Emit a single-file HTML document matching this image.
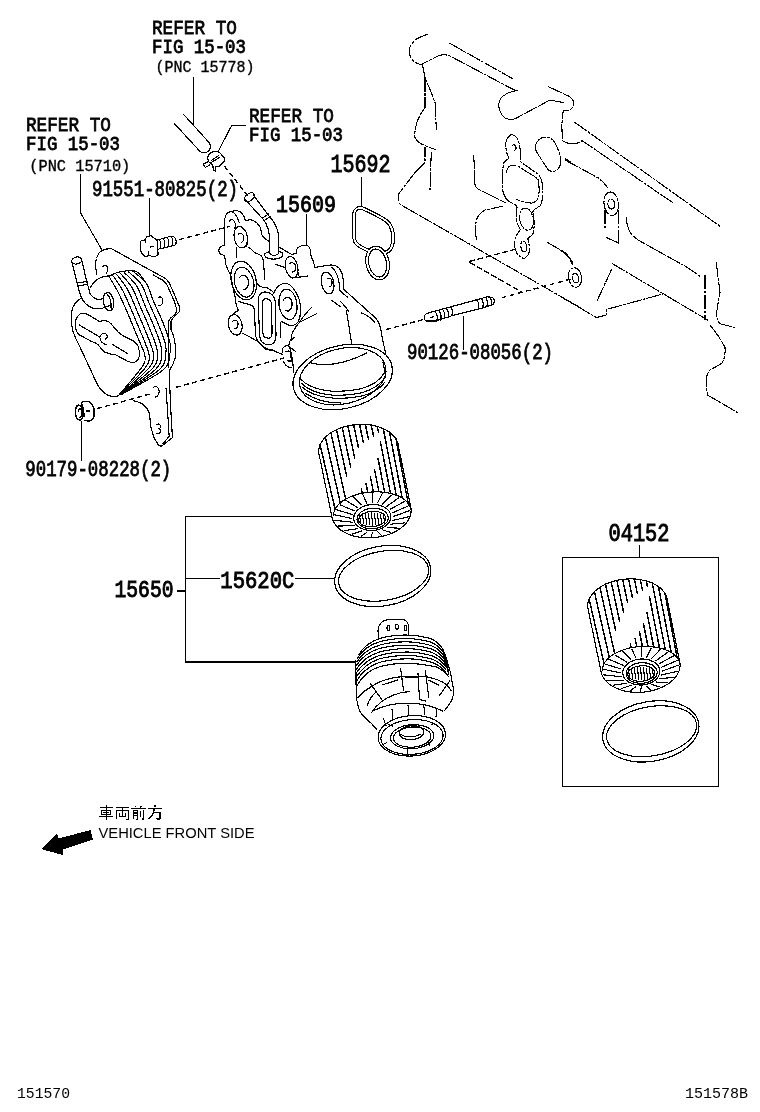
<!DOCTYPE html>
<html><head><meta charset="utf-8">
<style>
html,body{margin:0;padding:0;background:#fff;}
body{width:760px;height:1112px;overflow:hidden;position:relative;}
svg{position:absolute;left:0;top:0;will-change:transform;}
.s{font-family:"Liberation Mono",monospace;font-weight:normal;fill:#000;stroke:#000;stroke-width:0.8px;}
.p{font-family:"Liberation Mono",monospace;font-weight:normal;fill:#000;stroke:#000;stroke-width:0.35px;}
.b{font-family:"Liberation Mono",monospace;font-weight:normal;fill:#000;stroke:#000;stroke-width:0.95px;}
.f{font-family:"Liberation Mono",monospace;font-weight:normal;fill:#000;}
.n{font-family:"Liberation Sans",sans-serif;fill:#000;}
</style></head><body>
<svg shape-rendering="crispEdges" width="760" height="1112" viewBox="0 0 760 1112">
<g id="texts">
<text class="s" x="152" y="33.9" font-size="21.1" textLength="85" lengthAdjust="spacingAndGlyphs">REFER TO</text>
<text class="s" x="152" y="53.4" font-size="21.1" textLength="94" lengthAdjust="spacingAndGlyphs">FIG 15-03</text>
<text class="p" x="155.5" y="72" font-size="16" textLength="99" lengthAdjust="spacingAndGlyphs">(PNC 15778)</text>
<text class="s" x="249" y="122.2" font-size="21.1" textLength="85" lengthAdjust="spacingAndGlyphs">REFER TO</text>
<text class="s" x="249" y="141.2" font-size="21.1" textLength="94" lengthAdjust="spacingAndGlyphs">FIG 15-03</text>
<text class="s" x="26" y="130.8" font-size="21.1" textLength="85" lengthAdjust="spacingAndGlyphs">REFER TO</text>
<text class="s" x="26" y="149.8" font-size="21.1" textLength="94" lengthAdjust="spacingAndGlyphs">FIG 15-03</text>
<text class="p" x="29.3" y="171" font-size="16" textLength="101" lengthAdjust="spacingAndGlyphs">(PNC 15710)</text>
<text class="s" x="92" y="195.8" font-size="22" textLength="146" lengthAdjust="spacingAndGlyphs">91551-80825(2)</text>
<text class="b" x="330.5" y="172" font-size="25" textLength="60" lengthAdjust="spacingAndGlyphs">15692</text>
<text class="b" x="276" y="212" font-size="24" textLength="60" lengthAdjust="spacingAndGlyphs">15609</text>
<text class="s" x="407" y="359" font-size="22" textLength="146" lengthAdjust="spacingAndGlyphs">90126-08056(2)</text>
<text class="s" x="25.3" y="476" font-size="22" textLength="146" lengthAdjust="spacingAndGlyphs">90179-08228(2)</text>
<text class="b" x="608.5" y="541" font-size="25" textLength="61" lengthAdjust="spacingAndGlyphs">04152</text>
<text class="b" x="114.5" y="597.4" font-size="24" textLength="59" lengthAdjust="spacingAndGlyphs">15650</text>
<text class="b" x="220.3" y="587.6" font-size="24" textLength="74" lengthAdjust="spacingAndGlyphs">15620C</text>
<text class="n" x="98.5" y="838.2" font-size="15" textLength="156" lengthAdjust="spacingAndGlyphs">VEHICLE FRONT SIDE</text>
<text class="f" x="17" y="1097.8" font-size="15" textLength="53" lengthAdjust="spacingAndGlyphs">151570</text>
<text class="f" x="685" y="1097.8" font-size="15" textLength="63" lengthAdjust="spacingAndGlyphs">151578B</text>
</g>
<g id="lines" stroke="#000" stroke-width="1.1" fill="none">
<!-- leaders -->
<path d="M193.5,77 V124"/>
<path d="M246,125.3 H231.8 L218.4,151"/>
<path d="M80.6,174 V213 L102,250"/>
<path d="M149.4,198 V236"/>
<path d="M361.5,176.5 V206"/>
<path d="M306.5,213.5 V245.5"/>
<path d="M463.5,316 V350"/>
<path d="M81.5,421 V461"/>
<path d="M639.5,545 V557.6"/>
<rect x="562.5" y="557.6" width="156.3" height="229.2"/>
<path d="M332,516.6 H185.5 V662 H356"/>
<path d="M185.5,578.5 H219.7 M295,578.5 H334"/>
<path d="M176.7,591 H185.5"/>
</g>
<g id="dashes" stroke="#000" stroke-width="1.4" fill="none" stroke-dasharray="5 3.3">
<path d="M224.4,166 L248,196"/>
<path d="M179,239.7 L229.5,226.4"/>
<path d="M96.8,408.7 L152.4,393.3"/>
<path d="M175.8,387.4 L284.2,357.9"/>
<path d="M385.8,329.6 L423.4,319.5"/>
<path d="M501.6,297.8 L571,279"/>
</g>
<path d="M41,849 L57,833 L58.5,838.5 L90.5,830 L93,839.5 L63,849.5 L62.5,855 Z" fill="#000"/>
<g id="comp" stroke="#000" stroke-width="1.15" fill="none" stroke-linejoin="round" stroke-linecap="round">
<!-- top hose -->
<path d="M183.7,114.5 L209.5,143 A6.4,6.4 0 0 1 198.5,149.8 L174.2,123.4"/>
<!-- clamp -->
<path d="M208.3,160.7 C207,157 208,154.5 211,152.8 C214,151 218,151 220.5,153.5 L224,157.5 C225,159.5 224.5,161.5 222.5,163.2 L219.5,166 L216,166.5 L215.6,171.2 L213.3,170.4 L212.8,164.7 L208.3,161.6 L203.4,164.2 L205.2,167.4 L209.6,165.1"/>
<path d="M211.4,160.4 L218.6,155.7 M210.5,162.9 L219.5,157.5"/>
</g>
<g id="bolt" stroke="#000" stroke-width="1.15" fill="none" stroke-linejoin="round" stroke-linecap="round">
<path d="M140.3,241.8 C141,240.5 143,240 145.5,239.9 L146.2,237.2 C147.5,236.3 149.5,235.8 151.4,235.9 L157.7,241.2 L158,254.3 C156.5,256 155,257 154,257 L150.1,255.7 L144.9,256.3 C143,255 141.5,253.5 140.3,249.7 Z"/>
<path d="M145.5,240 V242.8 M148.8,251 V254.5 M150,247.1 L153.4,246.4 M152.3,236.5 L156.5,240"/>
<path d="M157.7,239.9 L170.5,236.3 C172.5,236 174,236.5 174.5,237.2 C176.5,239 176.8,243 175.1,245.1 L168.6,246.8 L158.7,249.1"/>
<path d="M159.3,239.5 C161,242 161.2,246 160,248.8 M163.3,238.4 C165,241 165.2,245 164,247.9 M167.2,237.3 C169,240 169.2,244 168,246.9 M171.2,236.5 C173,239 173.2,243 172,245.8"/>
</g>
<g id="housing" stroke="#000" stroke-width="1.15" fill="none" stroke-linejoin="round" stroke-linecap="round">
<!-- pipe -->
<ellipse cx="249.4" cy="197.3" rx="5.6" ry="3.6" transform="rotate(-40 249.4 197.3)"/>
<path d="M244.9,199.2 L263.3,219.5 C266.5,223.5 269.5,230 269.6,240.5 L269.6,252.5 C270,254.5 272,255.3 274,255.3 C276.5,255.3 278.7,254.5 278.7,252 L278.7,235.3 C277.5,228 274,221 268.6,215.5 L253.5,195.3"/>
<path d="M262.3,218 L268.6,214 M263.8,220.8 L270.2,216.5"/>
<path d="M268.8,252 C266,252.5 264.5,254 264.5,255.1 C265,257 267,258.2 269.6,258.7 C273,259.3 277,259 278.7,258.3 C281,257.5 283,256.5 283,255 C283,253.5 281.5,252 279.5,251.6"/>
<!-- top-left boss -->
<path d="M224.5,245.3 L224.5,224 C224.5,216 226,212.5 231.6,211.3 C236,210.3 240,210.5 242.2,213.7 C244,216 245,219 245.4,220.8 C248,220 251,218.8 253.7,220.8 C257,222.5 260,226 261,230 L261.6,234.2 C262.5,236.5 265,239 268.7,241.3"/>
<path d="M232,211.7 C235,213 237.5,217 239.1,222.4"/>
<path d="M229.2,221.6 C230,219.5 232.5,218.8 234,220.8 C235.5,223 235.5,226.5 234.7,228.7"/>
<path d="M224.5,245.3 C221,246 218.6,248 218.8,251 C219,253.5 222,255 224.5,255.5 L226,265 C227,268 228.5,271 231,276"/>
<ellipse cx="240.7" cy="237.2" rx="6.6" ry="10.8" transform="rotate(-10 240.7 237.2)"/>
<path d="M238.3,234.3 C239.5,232.5 242.5,233 243.5,236 C244.5,239 243.5,242 241.5,242.1"/>
<path d="M241,225.9 L245.4,231 M247.4,240.1 L246.8,246.8 M248.2,247.2 C250,248 252,249.5 254.5,252.4 C256,253.5 258,254 259.7,254.7 C261.5,255.5 262.5,257 262.9,258.7 L263.7,265 L264.9,279.2 M236.7,247.6 L236.7,257.1"/>
<!-- right of pipe to 15609 bump -->
<path d="M278.7,246.8 L291.3,254.3 L296,253.6 C296,251 297,248 299.2,246.8 C301,245.8 303,245.2 305.5,245.3 C307.5,245.5 309,246.3 309.5,247.6 C310.5,249.5 310.8,252.5 311,255.5 C311.5,258 312.5,260 313.4,261 L314.7,267.4 L330.5,265 C334,264.8 336.5,265.5 338.4,267.4 C341,270 342.8,274.5 343.2,280 L344,289.5 L368.4,311.6 C372.5,315 376,318 377.9,321 C380,325 381.5,331 382.6,340 L385.8,353.7"/>
<path d="M332,267.4 C335,270 338,276 339.2,283.2 L340,291 L347.9,297.4"/>
<ellipse cx="327.6" cy="283" rx="6.2" ry="11" transform="rotate(-12 327.6 283)"/>
<path d="M327.6,278.5 C329.5,277.5 331.5,278.5 332,281 C332.5,284 331.5,286.5 329.5,286.8"/>
<ellipse cx="291.6" cy="267.2" rx="6.2" ry="10.8" transform="rotate(-12 291.6 267.2)"/>
<path d="M289.5,263.5 C291.5,262 294.5,262.5 295.5,265.5 C296.5,268.5 295.5,271.5 292.5,272"/>
<path d="M292.1,278 L307.9,276 M298.8,272.5 L298,276 M275.1,264.2 L285,267.4"/>
</g>
<g id="housing2" stroke="#000" stroke-width="1.15" fill="none" stroke-linejoin="round" stroke-linecap="round">
<!-- left port -->
<ellipse cx="243.7" cy="280.5" rx="12.3" ry="19.7" transform="rotate(-14 243.7 280.5)"/>
<ellipse cx="244.1" cy="282.2" rx="9.5" ry="15.2" transform="rotate(-14 244.1 282.2)"/>
<path d="M239.5,277.5 C241,274.5 246,274.2 247.8,278.5 C249.5,283 248,289 243.5,289.7"/>
<!-- middle oval port -->
<path d="M258.2,300 C258.5,294 262,291.5 266,292 C271,292.5 274.5,296 275.5,302 L276,336 C276,342 273,345 268.5,344.8 C263,344.5 260,341 259.5,335 Z"/>
<path d="M262.2,304 C262.3,300 264.2,298.6 266.5,298.8 C269.5,299 271.5,301.5 271.8,305 L272,333 C272,336.5 270.5,338.2 268.3,338.2 C265,338.2 263,336 262.8,332.5 Z"/>
<!-- right port -->
<path d="M273.6,293.4 C275,290.5 277.5,286.5 280.1,284.9 C282,283.6 284,283 286,283.3 C289,283.8 291,285.5 292.6,287.5 C295,290.5 296.5,293 297.2,294.7 C298.8,298 299.6,300.5 299.9,302.6 C300.4,305.5 300.5,308 300.5,310.5 C300.4,313 300.2,315 299.9,317.1 C299.3,319 298.7,321 297.9,322.4 C296.5,323.8 295,324.6 293.9,325 C292.5,325.5 291.2,325.7 290,325.7 C288,325 286.3,324 284.7,323 C283.5,322.3 282.5,321.8 281.4,321.7 L280.1,322.4"/>
<ellipse cx="288" cy="304.4" rx="9" ry="15.3" transform="rotate(-8 288 304.4)"/>
<path d="M283.5,300 C284.5,297 289,296.5 291,299.5 C293,303 292.5,309.5 288,311.3 L286,310.5"/>
<!-- junction lines between ports -->
<path d="M255,276 C255.5,280 257.5,284.5 259.7,286.3 C262,287.5 264.5,287.5 266.8,287.5 C269.5,289 272,291 273.9,292.6"/>
<!-- left edge below left port -->
<path d="M231,276 C232,283 233,290 235,296 L236.3,305.3 L238.3,310.5 C236,311.5 234.5,312.5 234,313.5"/>
<!-- lower-left boss -->
<ellipse cx="235.2" cy="324.8" rx="6.8" ry="10.4" transform="rotate(-12 235.2 324.8)"/>
<path d="M232.5,321.5 C233.5,319.5 236.5,319.5 237.7,322 C238.8,325 237.5,328.5 234.8,328.6"/>
<path d="M242.4,333.2 L249.5,336.8 L257.6,341.4 C260,344 262,346.5 264.7,348.6 C267.5,350 271,350.5 274.2,350.9 L282.5,354.5"/>
<!-- lower middle: bottom of middle port down to small boss -->
<path d="M238.7,301.3 C243,303 247,304 249.2,304.5 C251.5,305.2 253,306 253.4,306.6 C254.2,308 254.5,310 254.5,311.8 L255.5,335 C256,338.5 257,340.5 258.7,342.4 C262,346 265.5,348.5 269.2,349.7 L274.5,350.3"/>
<path d="M280.1,322.4 L280.8,338"/>
<!-- small boss bottom -->
<path d="M282.3,352.4 L282.3,348.6 C283,347.5 285,345.8 287.2,345.4 C288,345.3 288.5,345.3 288.8,345.4"/>
<path d="M285.6,351.9 C287,351 289,351 289.9,351.3 C290.5,354 291,358 291.5,361 L287.7,361 M283.4,361.6 C284.5,363.5 285.5,365 286.6,365.9 C288,367 290,367.5 291,367.5"/>
<!-- neck -->
<path d="M311.6,307.2 C306,313 302.5,317.5 300.5,321 C297,325 293.5,330 291.8,334.5 L291,339.2 C289.5,341 288.8,342.5 288.8,345.4 C289,347 290,348 290.4,349.7 L292.6,360.5 L293.7,372.4"/>
<path d="M316.7,313.6 L299.7,322.2 M294.2,337.6 L289.5,341.6 M290.4,347.6 L295.8,351.6"/>
<path d="M346.3,311 C348,320 349.5,330 351.8,344.2"/>
<path d="M340,301 C343,304 346.5,307.5 348.5,311.5"/>
<path d="M361.5,313 C367,315 372,318.5 375,323"/>
<path d="M331.3,300.1 L340,306.4"/>
<!-- outlet rings -->
<ellipse cx="342.7" cy="377" rx="50.5" ry="31.5" transform="rotate(-13 342.7 377)"/>
<ellipse cx="342.7" cy="376.2" rx="44" ry="27.6" transform="rotate(-13 342.7 376.2)"/>
<path d="M311.6,363 C325,367 345,364 366.8,352.9"/>
<path d="M300.5,379 C312,391 335,394 360,389 C372,386 380,381 385,372"/>
<path d="M301,383 C313,395 336,398 361,393 C372,390 380,385 385.5,377"/>
<path d="M302.5,387.5 C315,398 338,401 362,396 C373,393 380,389 385,382"/>
<path d="M305,393 C315,400 328,403 341,403"/>
<path d="M383,362 L385,373"/>
</g>
<g id="cooler" stroke="#000" stroke-width="1.15" fill="none" stroke-linejoin="round" stroke-linecap="round">
<!-- bracket -->
<path d="M96.8,274.2 C95.5,268 95.5,262 96.5,258.5 C97.5,254.5 99.5,252 101.5,250.8 C104,249.3 107.5,248.6 111.3,248.6 L157.6,274.2 C161,275.8 164,277.5 166.3,279.3 C168.5,281.5 170,284 171,286.8 L175.8,297.9 L179.7,307.4 L179.7,311.3 L172.6,318.4 L171,320.8 L171,329.5 C172.5,333 174,336 174.5,340 C175.5,345 175.7,350 175.7,356.6 C174.5,360 173.5,362.5 172.5,365.2 C171,367.5 169.5,369.5 169.2,371.7 L170.3,399.7 L171.4,421.3 L172.5,437.5 L161.7,446.1 C160,446.3 159.2,446 158.5,445 C156.5,442 155,440 154.1,437.5 C152.5,433 151.5,430 150.9,426.7 L149.8,417 C149.5,413 148.5,411 147.7,409.5 C146,407 144.5,405.5 142.3,404 C139.5,402.3 136.5,401.3 133.6,400.8"/>
<path d="M153.3,275 L163.2,280.5 C165.5,282.5 167,284.5 167.9,286.8 L174.2,301 L176.6,309 L175.8,313.7 L170.3,318.4 L168.7,320.8 L168.7,339 C169,345 169,352 168.2,356.6 L168.2,367.4 M166,387.9 L169.2,436.4 L162.8,444"/>
<path d="M158.5,297.5 C160.5,296 162.5,297.5 162.8,300.5 C163,303.5 161.5,305.8 159,305.5"/>
<path d="M153,388 C154.5,386 157.5,386 158.8,389 C159.8,392 158.5,396.5 155.5,397"/>
<path d="M156,425 C157.5,423.3 160.5,424 160.8,426.5 C161,428.5 158.5,428.8 158,428.8 C160.5,429 161.5,431 160,432.8 C158.8,434 156.5,433.5 156,433"/>
<path d="M103,266.5 C104,264.8 106,264.8 107,266.5 C108,268.5 108,271 106.5,273"/>
<path d="M108.7,276.6 C114,273 120,271.5 126.6,270.8 C130,270.5 132,270.5 134,270.8 C137,271.5 139,273 140.3,275 C142.5,277.5 144,280 145.5,282.4"/>
<!-- front face -->
<path d="M108.8,275.8 C106,276 103,276.7 100.6,277.6 C98,278.8 96,280.3 94.7,281.7 C93,283.5 91.5,285.5 90.1,287.5"/>
<path d="M81.9,297.5 C79,299.5 76.5,302 74.9,303.9 C73,306.5 72.2,308.5 71.9,310.9 C71.3,315 71.2,319 71.4,322.6 C71.8,326 72.3,329 73.1,332 C75,337 77,341.5 79.5,346 L87.7,363.6 L94.7,378.8 C96.5,383 98.5,386.5 100.6,389.3 C103,392.3 105.5,394.5 108.8,395.7 C111.5,396.5 114.5,396.5 117,396.3 L120.5,394"/>
<!-- pipe -->
<ellipse cx="76.6" cy="260.5" rx="5.1" ry="3.4" transform="rotate(-14 76.6 260.5)"/>
<path d="M71.8,262 L77.8,285.5 C78.8,289.5 79.8,293.5 81,296.6 C82.3,299.5 83.8,301.8 85.7,303.7 C88,306 90.5,307.6 93.6,308.4 C96,308.9 98,309 99.9,308.8 C102,308.5 104,307.8 106.2,306.8 L110.9,305.2"/>
<path d="M81.6,259.5 L87.3,284 L88.8,287.9 C89,289.5 89.2,291 89.6,292.6 C90.5,294.5 91.8,296.2 93.6,297.4 C95.3,298.6 97.2,299.5 99.1,299.7 C100.6,299.6 101.8,299 103,298.2"/>
<path d="M77.5,283 L87,281.5 M78,285.8 L87.6,284.3"/>
<ellipse cx="108.5" cy="301.6" rx="5.2" ry="9.2" transform="rotate(-10 108.5 301.6)"/>
<path d="M106.4,293.4 C109.5,296 111.5,302 111.1,308.6"/>
<!-- dog bone -->
<path d="M76,319.1 C77.5,316 79.5,313.8 81.9,313.3 C83.8,313 85.8,313.5 87.7,314.4 L99.4,321.5 C101.5,321 104,320.4 106.4,320.9 C108.3,321.4 109.8,322.5 111.1,323.8 L118.1,332 C122,335.5 127,338 132.2,340.2 C134.5,341.5 136.5,343.5 138,346 C139.5,349.5 139.7,353 139.2,356.5 C138.5,359.5 136.8,361.5 134.5,362.4 C132.2,362.8 129.8,362.2 127.5,361.2 L114.6,354.2 L111.1,354.2 L104.1,351.9 C101.5,349.5 100,347 98.3,344.9 C96,343 93.5,342 91.2,341.3 L78.4,334.3 C76.5,332 75.5,329 75.4,326.1 C75.3,323.5 75.4,321 76,319.1 Z"/>
<path d="M79.3,325 L99.4,336.8 M112.3,344.3 L127.8,353.8"/>
<path d="M100.5,336 C101.5,333 105,332.5 106.8,334.8 C107.8,336.5 107.2,338.5 105.5,339 M99.8,337.5 C100.5,341 103,344 106,344.5"/>
<path d="M109.0,276.5 C110.5,279.1 114.8,285.8 118.0,292.0 C121.2,298.2 125.2,307.5 128.0,314.0 C130.8,320.5 132.8,325.8 135.0,331.0 C137.2,336.2 139.3,340.8 141.0,345.0 C142.7,349.2 144.8,352.3 145.0,356.0 C145.2,359.7 146.3,360.5 142.0,367.0 C137.7,373.5 122.8,390.3 119.0,395.0"/>
<path d="M112.8,275.5 C114.5,278.0 119.4,284.4 122.7,290.5 C125.9,296.6 129.4,305.4 132.3,312.0 C135.1,318.5 137.4,324.3 139.7,329.7 C142.0,335.2 144.3,340.4 145.8,344.7 C147.4,349.0 149.2,351.7 149.2,355.5 C149.1,359.3 150.5,360.9 145.5,367.5 C140.5,374.1 123.8,390.3 119.4,394.9"/>
<path d="M116.7,274.5 C118.4,276.9 124.0,283.1 127.3,289.0 C130.7,294.9 133.7,303.4 136.6,309.9 C139.4,316.5 142.1,322.7 144.4,328.4 C146.8,334.1 149.2,339.9 150.7,344.3 C152.2,348.8 153.6,351.1 153.3,355.0 C153.1,358.9 154.6,361.4 149.0,368.0 C143.4,374.6 124.7,390.4 119.8,394.8"/>
<path d="M120.5,273.5 C122.4,275.8 128.6,281.8 132.0,287.5 C135.4,293.2 138.0,301.3 140.8,307.9 C143.7,314.5 146.7,321.1 149.1,327.1 C151.5,333.1 154.1,339.4 155.5,344.0 C156.9,348.6 158.0,350.4 157.5,354.5 C157.0,358.6 158.7,361.8 152.5,368.5 C146.3,375.2 125.6,390.4 120.2,394.8"/>
<path d="M124.3,272.5 C126.4,274.8 133.2,280.4 136.7,286.0 C140.1,291.6 142.3,299.2 145.1,305.9 C148.0,312.5 151.3,319.5 153.8,325.8 C156.3,332.1 159.0,339.0 160.3,343.7 C161.6,348.4 162.4,349.8 161.7,354.0 C160.9,358.2 162.8,362.2 156.0,369.0 C149.2,375.8 126.6,390.4 120.7,394.7"/>
<path d="M128.2,271.5 C130.4,273.7 137.8,279.1 141.3,284.5 C144.9,289.9 146.6,297.2 149.4,303.8 C152.3,310.5 155.9,317.9 158.5,324.5 C161.1,331.1 163.9,338.5 165.2,343.3 C166.4,348.2 166.8,349.1 165.8,353.5 C164.9,357.9 167.0,362.7 159.5,369.5 C152.0,376.3 127.5,390.4 121.1,394.6"/>
<path d="M132.0,270.5 C134.3,272.6 142.4,277.8 146.0,283.0 C149.6,288.2 150.8,295.1 153.7,301.8 C156.6,308.5 160.5,316.3 163.2,323.2 C165.9,330.1 168.9,338.0 170.0,343.0 C171.1,348.0 171.2,348.5 170.0,353.0 C168.8,357.5 171.1,363.1 163.0,370.0 C154.9,376.9 128.4,390.4 121.5,394.5"/>
</g>
<g id="nut" stroke="#000" stroke-width="1.5" fill="none" stroke-linejoin="round" stroke-linecap="round">
<ellipse cx="79.3" cy="412.6" rx="4" ry="7.5" transform="rotate(-5 79.3 412.6)"/>
<path d="M81.4,403.3 C82.5,402 83.5,401.5 84.2,401.3 L88.6,401.3 C90.3,402.5 91.5,403.8 92.5,405.3 C93.5,407 94,408.5 94.1,410 L94.1,415.9 C93.7,417.5 93.2,418.5 92.5,419.5 C91.3,420.5 90,421 88.6,421 L85,420.3"/>
<path d="M78.5,411 C78.5,409 79.5,408.4 80.5,408.6 C81.5,409.3 82,412 82,414.5 C81.8,416 81,417 80,417.2"/>
<path d="M81.8,404 C83,407 83.5,410 83.8,412.8 L84.2,416.7 M86.2,411.2 L89.3,411"/>
</g>
<g id="gasket" fill="none" stroke-linejoin="round" stroke-linecap="round">
<g stroke="#000" stroke-width="3.9">
<path id="gk1" d="M368.5,250.5 C362,248 357,245.5 355,241.5 C353.5,237 353.5,225 354,214 C354.5,210 357.5,207.6 361,207.8 C365,209 380,216.5 386,220.5 C389.5,223 391.8,227.5 392.8,233 C393.5,239 393,245 390.5,249 C389,251 387,252 385.5,252.5"/>
<ellipse cx="377.6" cy="263" rx="10.2" ry="15.6" transform="rotate(-12 377.6 263)"/>
</g>
<g stroke="#fff" stroke-width="1.7">
<path d="M368.5,250.5 C362,248 357,245.5 355,241.5 C353.5,237 353.5,225 354,214 C354.5,210 357.5,207.6 361,207.8 C365,209 380,216.5 386,220.5 C389.5,223 391.8,227.5 392.8,233 C393.5,239 393,245 390.5,249 C389,251 387,252 385.5,252.5"/>
<ellipse cx="377.6" cy="263" rx="10.2" ry="15.6" transform="rotate(-12 377.6 263)"/>
</g>
</g>
<g id="stud" stroke="#000" stroke-width="1.2" fill="none" stroke-linejoin="round" stroke-linecap="round">
<path d="M426.3,313.7 L431.6,312.1 L451,306.8 L475.8,300 L487.4,296.8 L492.6,297.4 C494,298.5 494.5,300 494.2,301.6 C494,303 493.5,304 492.6,304.7 L479,309 L451.6,315.8 L435.8,321 L426.3,321 C424.5,320 424,318.5 424.2,317.4 C424.3,315.5 425,314.3 426.3,313.7 Z"/>
<path d="M435.8,312.5 C437.5,315 437.8,318 436.5,321 M439.5,311.5 C441.2,314 441.5,317 440.3,320 M443.2,310.5 C445,313 445.2,316 444,319 M447,309.3 C448.8,312 449,315 447.8,318 M451,306.8 C452.5,309.5 452.8,312.5 451.6,315.8"/>
<path d="M477,300.2 C478.8,302.5 479.2,305.5 478.3,308.8 M481.5,298.7 C483.3,301 483.6,304 482.8,307.3 M485.7,297.4 C487.5,299.8 487.8,302.8 487,306 M489.8,297 C491.5,299.3 491.8,302.3 491,305.3"/>
<path d="M430.5,317.4 L433.7,316.8"/>
</g>
<g id="block" stroke="#000" stroke-width="1.1" fill="none" stroke-linejoin="round" stroke-linecap="round" stroke-dasharray="14 2 2 2">
<path d="M427.6,34.2 C420,37 414.5,39.5 413.2,42.1 C410.5,45 409.2,47.5 409.2,50 C409.2,54 410,57 411.8,59.2 C414.5,62.5 418,64 421.1,64.5 L439.5,55.3 C443,54.5 446,54.8 448.7,55.3 L513.2,89.5 L517.1,90.8"/>
<path d="M450,43.4 L513.2,79"/>
<path d="M515.8,90.8 C510,92 506,93.5 505.3,94.7 C502,96.5 500.5,98.5 500,100 C498.8,102.5 498.5,104.5 498.7,106.6 C499.3,110 500.5,113 502.6,115.8 C505,118 507.5,119.3 510.5,119.7 C512.5,119.8 514,119.2 515.8,118.4 L550,100"/>
<path d="M548.7,86.8 L568.4,96 C571,97.5 573,99.5 573.7,101.3 C574,104 573,107 571,109.2 C568.5,110.5 565.5,110.8 563.2,110.5 L561.8,125 L562.4,140.7 C565,142.5 567.5,143.3 570,143.3 L575,143.75 L583.75,141.25"/>
<path d="M550,100 L563.2,102.6"/>
<path d="M422.4,64.5 L425,77.6 L431.6,93.4 L435.5,104 L436.25,130"/>
<path d="M425,77.6 L425,107.5 C420,115 417,120 416.25,125 C415,130 414.5,134 415,137.5 C417,141.5 420,143.5 423.75,145 L436.25,150"/>
<path d="M431.25,152.5 L430,190"/>
<path d="M415,172.5 L425,162.5 L425,147.5 M415,172.5 L398.75,193.75 L398.75,202.5 C399.5,203.5 400.3,204.5 401.25,205 L580,307.5"/>
<path d="M473.75,155 L475,185 C476,187.5 478,189 480,190 L505,202.5"/>
<path d="M535.4,145.2 C537.5,140.5 540,138 542.9,137.6 C546,137.3 548.5,137.5 550.5,138.2 C553,139.5 554.5,141.5 555.5,143.9 C558,149 559.8,154 560.6,159 C561,163 560,167 558,169.1 C556,170.8 554,171.6 551.7,171.6 C549.8,171.3 548,170 546.7,167.8 L537.9,154 C535.8,151 534.8,149 535.4,145.2 Z"/>
<path d="M511.4,134.4 C508,136.5 506,140 505.7,143.9 C505.7,148 506.5,152 507.6,155.2 L508.9,158.4 C506.5,159.5 504.8,161 503.9,162.8 C502.9,167 502.6,171 502.6,175.4 L502.6,190.5 C503.5,194 505,197 506.4,199.3 C509,201.5 512,203 515.2,204.4 L517.1,206.9 C516.5,211 516.3,216 516.5,220.7 C517.5,224 519,227 520.2,229.6 C518,232.5 516.3,235.5 515.2,238.4 C514.6,241 514.4,243.5 514.6,246 C515,249 516,251.5 517.1,253.5 C519.5,256 521.5,257.8 524,258.5 C526.5,257.5 528.3,255 529.1,252.2 C529.5,247.5 529,243 527.8,238.4 C529.5,236.8 531,235.8 532.8,234.6 C533.8,230.5 534.3,226 534.1,222 C533.9,218.5 533.5,215 532.8,211.9 L534.1,209.4 C536.5,208 538.5,207 540.4,205.6 C541.8,202.5 542.5,199 542.9,195.6 C542.8,190.5 542.5,185.5 541.7,180.4 C540.8,178 539.5,176 537.9,174.1 L520.2,161.5 L520.2,150.2 C519.8,146 519,142 517.7,138.9 C516,136.5 514,135 511.4,134.4 Z"/>
<path d="M506.4,172.9 C507,169 509,166 511.4,165.3 C513.5,165 515.5,165.3 517.7,165.9 L531.6,174.8 C534.5,176.5 536.5,178 537.9,179.2 C539,183.5 539.3,187.5 539.1,191.8 C538.6,195.5 537.8,198.5 536.6,200.6 C535,202 533.5,202.8 531.6,203.1 C528,203 524,202 520.2,201.2 L516.5,199.3"/>
<path d="M512,146 C512.5,144.5 514.5,144.3 515.5,146 C516.3,147.5 516,149.5 514.5,150.5"/>
<ellipse cx="526.5" cy="219.2" rx="6.8" ry="11.2" transform="rotate(-12 526.5 219.2)"/>
<ellipse cx="523.7" cy="246.5" rx="2.8" ry="5.5" transform="rotate(-10 523.7 246.5)"/>
<path d="M575,122.5 L720,226.25"/>
<path d="M581.25,140 L672.5,202.5"/>
<path d="M565,160 L597.5,177.5 C601.5,180 604.5,183.5 607.5,187.5"/>
<ellipse cx="611.25" cy="203.75" rx="7.2" ry="11.8" transform="rotate(-8 611.25 203.75)"/>
<ellipse cx="611.25" cy="204" rx="3.4" ry="5" transform="rotate(-8 611.25 204)"/>
<path d="M605,210 L605,227.5 M618.75,210 L618.75,245 M606.25,237.5 L617.5,242.5"/>
<path d="M626.25,217.5 C626.5,223 628,228.5 630,232.5 C633.5,237 637.5,240 642.5,242.5 L687.5,267.5 L700,276.25"/>
<path d="M716.25,262.5 L720,292.5 C719,298 717.5,306 716.25,315 C717,319 718,321.5 720,323.75 L735,327.5"/>
<ellipse cx="575" cy="277.5" rx="6.5" ry="9.8" transform="rotate(-10 575 277.5)"/>
<ellipse cx="575.5" cy="278" rx="3" ry="5" transform="rotate(-10 575.5 278)"/>
<path d="M560,250 C565,253 570,257 572.5,262.5"/>
<path d="M560,296.25 L596.25,317.5 L606.25,315 L606.25,309.5 L663.75,293.75"/>
<path d="M597.5,300 L612.5,267.5"/>
<path d="M612.5,263.75 L707.5,320"/>
<path d="M705,275 L705,320"/>
<path d="M710,325 C716,332 721,340 725,347.5 C725.5,353 724.5,358 722.5,362.5 C719,365.5 713,368 710,370 C707.5,373 706.3,376.5 706.25,380 C706.2,385 706.5,390 707.5,395 L737.5,412.5"/>
<path d="M470,261.25 L517.5,248.75 M470,262.5 L522.5,292.5" stroke-dasharray="5 3.3" stroke-width="1.3"/>
<path d="M547.5,242.5 L565,252.5 C568.5,256 571,260 572.5,265"/>
<path d="M476.25,240 C475.5,232 475.5,226 476.25,220 C478,215.5 481,212 485,210 L502.5,206.25"/>
<path d="M565.6,159 L570,161.5"/>
</g>
<defs>
<g id="filt" stroke="#000" stroke-width="1.15" fill="none" stroke-linejoin="round" stroke-linecap="round">
<path d="M318.7,452.6 L318.7,450.7 L318.9,448.7 L319.4,446.7 L320.1,444.8 L321.0,442.9 L322.2,441.0 L323.6,439.2 L325.2,437.4 L327.0,435.7 L329.0,434.1 L331.2,432.6 L333.6,431.2 L336.1,429.9 L338.7,428.7 L341.5,427.7 L344.4,426.8 L347.4,426.0 L350.4,425.4 L353.5,424.9 L356.6,424.6 L359.8,424.4 L362.9,424.4 L366.0,424.5 L369.1,424.8 L372.0,425.3 L375.0,425.9 L377.8,426.6 L380.5,427.5 L383.0,428.5 L385.4,429.7 L387.6,430.9 L389.7,432.3 L391.6,433.8 L393.2,435.4 L394.7,437.1 L395.9,438.8 L396.9,440.6 L397.7,442.5 L398.2,444.4 L398.5,446.4"/>
<path d="M411.1,509.2 L411.1,511.2 L410.9,513.2 L410.4,515.2 L409.8,517.2 L408.8,519.1 L407.7,521.1 L406.3,522.9 L404.7,524.7 L402.9,526.4 L400.9,528.1 L398.7,529.6 L396.3,531.0 L393.8,532.3 L391.2,533.5 L388.4,534.6 L385.6,535.5 L382.6,536.3 L379.6,536.9 L376.5,537.4 L373.4,537.7 L370.3,537.9 L367.2,537.9 L364.1,537.7 L361.0,537.4 L358.1,537.0 L355.2,536.4 L352.4,535.6 L349.7,534.7 L347.2,533.7 L344.8,532.5 L342.5,531.2 L340.5,529.8 L338.6,528.2 L337.0,526.6 L335.5,524.9 L334.3,523.1 L333.3,521.3 L332.5,519.4 L332.0,517.4 L331.7,515.4"/>
<path d="M318.7,452.6 L331.7,515.4 M398.5,446.4 L411.1,509.2"/>
<path d="M333.7,515.8 L333.7,514.2 L333.9,512.5 L334.4,510.9 L335.1,509.3 L336.0,507.7 L337.2,506.1 L338.5,504.5 L340.1,503.1 L341.9,501.6 L343.8,500.3 L346.0,499.0 L348.3,497.8 L350.7,496.7 L353.3,495.7 L356.0,494.8 L358.8,494.0 L361.6,493.3 L364.6,492.8 L367.6,492.4 L370.6,492.1 L373.6,491.9 L376.6,491.8 L379.6,491.9 L382.5,492.1 L385.4,492.5 L388.2,492.9 L390.9,493.5 L393.5,494.2 L396.0,495.1 L398.3,496.0 L400.4,497.0 L402.4,498.2 L404.2,499.4 L405.7,500.7 L407.1,502.1 L408.3,503.5 L409.2,505.0 L410.0,506.6 L410.4,508.2 L410.7,509.8"/>
<path stroke-width="1.45" d="M320.1,444.7 L335.1,509.2 M325.4,437.2 L340.3,502.9 M330.9,432.8 L345.7,499.2 M336.5,429.7 L346.7,476.2 M342.2,427.4 L350.7,467.2 M347.9,425.9 L354.7,458.1 M361.3,488.9 L362.2,493.2 M353.7,424.9 L358.4,447.4 M366.0,483.7 L367.8,492.3 M359.6,424.4 L363.3,442.5 M370.4,477.2 L373.4,491.9 M365.4,424.5 L368.4,439.2 M374.5,469.4 L379.0,491.9 M371.3,425.2 L373.5,436.0 M378.0,458.4 L384.7,492.4 M377.3,426.5 L378.4,431.9 M380.4,441.9 L390.5,493.4 M383.3,428.7 L396.3,495.2 M389.5,432.2 L402.2,498.0 M395.9,438.7 L408.2,503.4"/>
<ellipse cx="372.3" cy="517.5" rx="18.6" ry="13" transform="rotate(-4.5 372.3 517.5)"/>
<ellipse cx="372.6" cy="518.5" rx="15.6" ry="10.3" transform="rotate(-4.5 372.6 518.5)"/>
<ellipse cx="372.2" cy="519.0" rx="13.5" ry="7.8" transform="rotate(-4.5 372.2 519.0)"/>
<path d="M359.4,515.0 L360.7,523.0 M362.4,514.5 L363.7,523.5 M365.4,514.0 L366.7,524.0 M368.4,513.5 L369.7,524.5 M371.4,513.0 L372.7,525.0 M374.4,513.5 L375.7,524.5 M377.4,514.0 L378.7,524.0 M380.4,514.5 L381.7,523.5 M383.4,515.0 L384.7,523.0"/>
<path d="M393.1,516.6 L409.9,510.5 M392.4,520.5 L408.6,516.8 M390.4,524.2 L404.8,522.9 M387.1,527.5 L398.6,528.2 M382.8,530.0 L390.6,532.4 M377.8,531.7 L381.3,535.3 M372.4,532.5 L371.4,536.6 M367.0,532.2 L361.4,536.2 M362.0,530.9 L352.1,534.2 M357.7,528.7 L344.1,530.7 M354.4,525.8 L338.0,526.0 M352.2,522.2 L334.2,520.3 M351.5,518.4 L334.8,514.8 M352.2,514.5 L336.2,509.7 M354.2,510.8 L340.0,504.8 M357.5,507.5 L346.0,500.5 M361.8,505.0 L353.8,497.0 M366.8,503.3 L362.9,494.6 M372.2,502.5 L372.5,493.4 M377.6,502.8 L382.2,493.5 M382.6,504.1 L391.2,495.0 M386.9,506.3 L398.9,497.7 M390.2,509.2 L404.7,501.4 M392.4,512.8 L408.4,505.9"/>
</g>
<g id="oring" fill="none" stroke="#000" stroke-width="1.2">
<ellipse cx="382.75" cy="576" rx="48.6" ry="29.9" transform="rotate(-10 382.75 576)"/>
<ellipse cx="383.6" cy="575.8" rx="45.6" ry="24.6" transform="rotate(-10 383.6 575.8)"/>
</g>
</defs>
<use href="#filt"/>
<use href="#filt" transform="translate(269 154.5)"/>
<use href="#oring"/>
<use href="#oring" transform="translate(268 155.4)"/>
<g id="cap" stroke="#000" stroke-width="1.15" fill="none" stroke-linejoin="round" stroke-linecap="round">
<path d="M378.5,638.5 L378,630 C378.5,625 381,621.5 386,620 C392,619 400,619 404.5,620 C407.5,621.5 408.5,624 408.7,627 L408.7,635"/>
<ellipse cx="388.4" cy="628.2" rx="1.4" ry="2.6"/><ellipse cx="396.9" cy="626.8" rx="1.4" ry="2.6"/><ellipse cx="405.6" cy="628.2" rx="1.3" ry="2.6"/>
<path d="M355.8,660.5 L356.2,694 C356.5,700 357.5,706 360.5,712.6 C364,717 367.5,720.5 371.6,723.7 L377.1,730"/>
<path d="M447.4,662 C449.5,668 451,674 452,681 C453,686 453.7,690 453.7,693.7 C453,698 451.5,701.5 449,704.7 L444.2,711"/>
<path d="M358.7,654.6 C364,646 371,641.5 379,638.7 C388,636 396,635 405,635 C414,635 423,636.5 431,638.7 C436,641 440,644.5 442.6,648.8 C445,653 446.5,657 447.4,662"/>
<path d="M357.4,658 C363,649.5 370.5,644.5 379,642 C388,639.2 397,638.5 405,638.4 C414,638.4 423,640 431,642.2 C436.5,644.5 440.5,648 443.3,652.3 C445.5,656 447,660 447.8,664.5"/>
<path d="M356.9,661.8 C362.5,653 370.3,648 379,645.3 C388,642.6 397,641.9 405.5,641.8 C414.5,641.8 423.5,643.4 431.3,645.6 C437,648 441,651.5 443.8,655.8 C446,659.5 447.5,663.5 448.2,668"/>
<path d="M356.5,665.5 C362,656.5 370,651.5 379,648.7 C388,646 397.5,645.3 406,645.2 C415,645.2 423.8,646.8 431.6,649 C437.5,651.5 441.5,655 444.3,659.3 C446.5,663 448,667 448.5,671.5"/>
<path d="M356.2,669.5 C361.8,660.5 369.8,655 379,652.2 C388,649.5 397.8,648.7 406.4,648.6 C415.5,648.6 424,650.2 431.9,652.4 C438,655 442,658.5 444.8,662.8 C447,666.5 448.3,670.5 448.7,674.8"/>
<path d="M356,673.5 C361.6,664.5 369.6,658.7 379,655.6 C388,652.9 398,652.1 406.8,652 C416,652 424.3,653.6 432.2,655.8 C438.3,658.4 442.5,662 445.3,666.3"/>
<path d="M356,677.5 C361.5,668.5 369.5,662.3 379,659 C388.5,656.3 398.2,655.5 407.2,655.4 C416.4,655.4 424.6,657 432.5,659.2 C438.6,661.8 443,665.5 445.8,669.8"/>
<path d="M356.2,681.5 C361.5,672.5 369.4,666 379,662.5 C388.5,659.8 398.5,658.9 407.6,658.8 C416.8,658.8 425,660.4 432.8,662.6 C439,665.2 443.5,669 446.3,673.3"/>
<path d="M357,685.5 C362,676.5 370,669.8 379,667 C389,663.8 399,663.3 408,663.3 C418,663.5 427,665 436.8,667 C441.5,669.5 445.5,672.5 448.4,676.3"/>
<path d="M357.2,698 C361.5,693 366,689.5 371.7,686.4 C378,682 385,679.5 393.4,677.8 C402,676.3 412,676 422.4,676.3 C429.5,677 436.5,679 442.6,682.1 C446.5,684.5 449.5,687.5 451.3,690.8"/>
<path d="M371.7,712.5 C377,704 384.5,698.5 393.4,695.1 C398.5,693 404,692 409.3,691.5"/>
<path d="M400.7,669 L403.6,690.8 M418,673.4 L419.5,699.5 M425.3,670.5 L428.9,698 M405.7,677.8 L418,677 M381.8,685 L397.8,680 M428.2,680 L438.3,685 M405,692.2 L409.3,691.5 M419.5,699.5 L425.3,701"/>
<path d="M370.3,683.6 L381.8,699.5 M449.9,680.7 L439.7,695.1 M367.4,705.3 C369,700 372,695.5 376,692.2"/>
<path d="M373,711 C383,705.5 395,703.2 407.9,703.2 C420,703.2 433,706 442.6,711"/>
<ellipse cx="411.8" cy="735.8" rx="33.8" ry="20.2" transform="rotate(-4 411.8 735.8)"/>
<ellipse cx="412" cy="737" rx="31.2" ry="17.4" transform="rotate(-4 412 737)"/>
<ellipse cx="412.2" cy="736.7" rx="21.7" ry="12" transform="rotate(-4 412.2 736.7)"/>
<ellipse cx="412.2" cy="737.1" rx="18.8" ry="10.1" transform="rotate(-4 412.2 737.1)"/>
<ellipse cx="411.5" cy="732.7" rx="12.3" ry="7" transform="rotate(-4 411.5 732.7)"/>
<path d="M401,734.5 C405,737.5 414,738 421,734"/>
<path d="M392,709.6 L392.8,718.3 M408,705 L408.6,714 M423.8,705 L424.6,714 M436.8,709.6 L436,716.8 M383.3,718.3 L386,725.5"/>
<path d="M407.9,747 L407.5,753 M428.2,743 L430,745.8 M386.2,743 L383,744.5 M392.5,726 L389,724.5 M431,725 L434,723.5"/>
</g>
<g id="cjk" stroke="#000" stroke-width="1.35" fill="none" stroke-linecap="butt" stroke-linejoin="miter">
<path d="M100,807.3 H112.9 M106.3,804.9 V819.6 M101.6,810.2 H110.8 V814.4 H101.6 Z M103.4,812.3 H109.2 M99.2,816.2 H112.9"/>
<path d="M116.1,807.3 H128.7 M116.6,819.4 V810.4 H128.2 V819.4 L126.6,819 M122.4,807.3 V816.2 M119.2,812.5 V816.6 H125.8 V812.5"/>
<path d="M135.4,806.2 L136.4,807.5 M141.2,806.2 L140.1,807.5 M131.2,808.3 H145.6 M133.3,819.4 V810.7 H137.5 V819.4 L136.6,819 M133.5,813 H137.3 M133.5,815.4 H137.3 M140.4,811 V817.3 M143.8,810.4 V819.4 L142.2,818.8"/>
<path d="M155.2,805 L154.8,807.5 M148.3,808.3 H161.7 M154.3,808.8 C153.8,811 153.5,812.8 152.7,814.1 C151.5,816 150,818 148.5,819.4 M153.3,812.3 H160.1 V818.3 L159.3,819.1 L157.5,819.1 L156.4,818.3"/>
</g>
<!--COMP-->
</svg>
</body></html>
